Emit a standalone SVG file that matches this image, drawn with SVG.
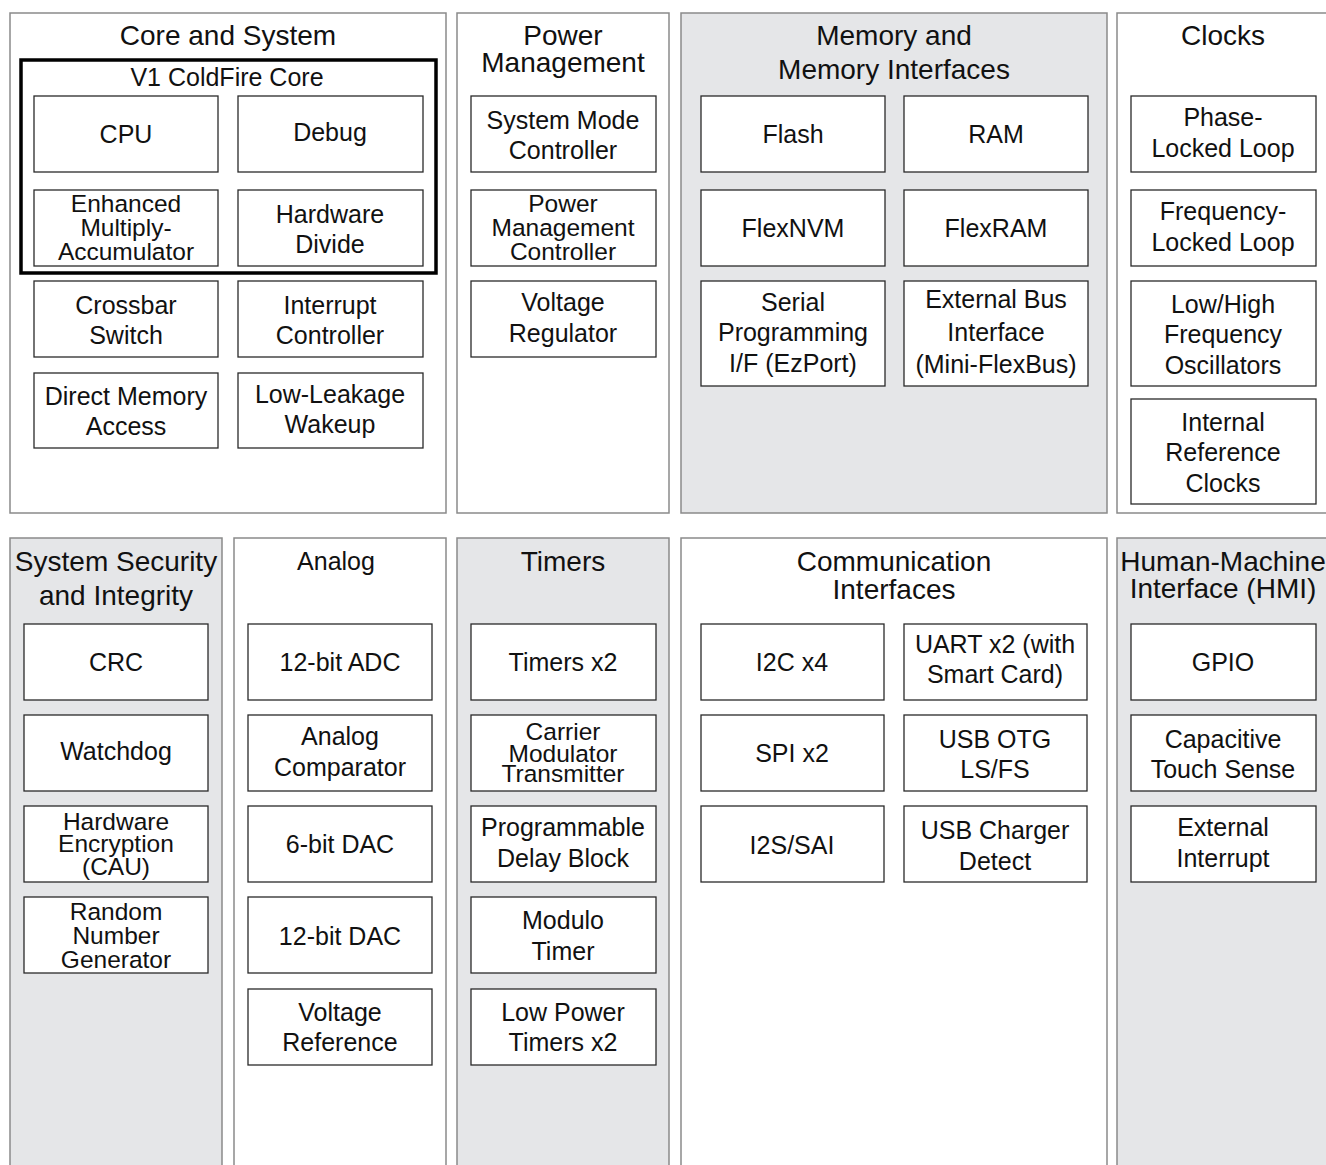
<svg xmlns="http://www.w3.org/2000/svg" width="1326" height="1165" viewBox="0 0 1326 1165">
<style>
.pw{fill:#ffffff;stroke:#8a8a8a;stroke-width:1.5}
.pg{fill:#e5e6e8;stroke:#8a8a8a;stroke-width:1.5}
.b{fill:#ffffff;stroke:#2a2a2a;stroke-width:1.3}
.core{fill:none;stroke:#000;stroke-width:3.5}
text{font-family:"Liberation Sans",Arial,Helvetica,sans-serif;fill:#111;text-anchor:middle}
.t{font-size:28px}
.n{font-size:25px}
.s{font-size:24.5px}
</style>
<rect x="0" y="0" width="1326" height="1165" fill="#ffffff"/>
<!-- Panels -->
<g id="panel-core"><rect class="pw" x="10" y="13" width="436" height="500"/><text class="t" x="228" y="45">Core and System</text></g>
<g id="panel-power"><rect class="pw" x="457" y="13" width="212" height="500"/><text class="t" x="563" y="45">Power</text><text class="t" x="563" y="72">Management</text></g>
<g id="panel-memory"><rect class="pg" x="681" y="13" width="426" height="500"/><text class="t" x="894" y="45">Memory and</text><text class="t" x="894" y="79">Memory Interfaces</text></g>
<g id="panel-clocks"><rect class="pw" x="1117" y="13" width="215" height="500"/><text class="t" x="1223" y="45">Clocks</text></g>
<g id="panel-security"><rect class="pg" x="10" y="538" width="212" height="640"/><text class="t" x="116" y="571">System Security</text><text class="t" x="116" y="605">and Integrity</text></g>
<g id="panel-analog"><rect class="pw" x="234" y="538" width="212" height="640"/><text class="n" x="336" y="570">Analog</text></g>
<g id="panel-timers"><rect class="pg" x="457" y="538" width="212" height="640"/><text class="t" x="563" y="571">Timers</text></g>
<g id="panel-comm"><rect class="pw" x="681" y="538" width="426" height="640"/><text class="t" x="894" y="571">Communication</text><text class="t" x="894" y="599">Interfaces</text></g>
<g id="panel-hmi"><rect class="pg" x="1117" y="538" width="215" height="640"/><text class="t" x="1223" y="571">Human-Machine</text><text class="t" x="1223" y="598">Interface (HMI)</text></g>

<!-- Core -->
<g id="v1-coldfire-core"><rect class="core" x="21" y="60" width="415" height="213"/><text class="n" x="227" y="86">V1 ColdFire Core</text></g>
<g id="cpu"><rect class="b" x="34" y="96" width="184" height="76"/><text class="n" x="126" y="143">CPU</text></g>
<g id="debug"><rect class="b" x="238" y="96" width="185" height="76"/><text class="n" x="330" y="141">Debug</text></g>
<g id="emac"><rect class="b" x="34" y="190" width="184" height="76"/><text class="s" x="126" y="212">Enhanced</text><text class="s" x="126" y="236">Multiply-</text><text class="s" x="126" y="260">Accumulator</text></g>
<g id="hw-divide"><rect class="b" x="238" y="190" width="185" height="76"/><text class="n" x="330" y="223">Hardware</text><text class="n" x="330" y="253">Divide</text></g>
<g id="crossbar"><rect class="b" x="34" y="281" width="184" height="76"/><text class="n" x="126" y="314">Crossbar</text><text class="n" x="126" y="344">Switch</text></g>
<g id="interrupt"><rect class="b" x="238" y="281" width="185" height="76"/><text class="n" x="330" y="314">Interrupt</text><text class="n" x="330" y="344">Controller</text></g>
<g id="dma"><rect class="b" x="34" y="373" width="184" height="75"/><text class="n" x="126" y="405">Direct Memory</text><text class="n" x="126" y="435">Access</text></g>
<g id="llwu"><rect class="b" x="238" y="373" width="185" height="75"/><text class="n" x="330" y="403">Low-Leakage</text><text class="n" x="330" y="433">Wakeup</text></g>

<!-- Power -->
<g id="smc"><rect class="b" x="471" y="96" width="185" height="76"/><text class="n" x="563" y="129">System Mode</text><text class="n" x="563" y="159">Controller</text></g>
<g id="pmc"><rect class="b" x="471" y="190" width="185" height="76"/><text class="s" x="563" y="212">Power</text><text class="s" x="563" y="236">Management</text><text class="s" x="563" y="260">Controller</text></g>
<g id="vreg"><rect class="b" x="471" y="281" width="185" height="76"/><text class="n" x="563" y="311">Voltage</text><text class="n" x="563" y="342">Regulator</text></g>

<!-- Memory -->
<g id="flash"><rect class="b" x="701" y="96" width="184" height="76"/><text class="n" x="793" y="143">Flash</text></g>
<g id="ram"><rect class="b" x="904" y="96" width="184" height="76"/><text class="n" x="996" y="143">RAM</text></g>
<g id="flexnvm"><rect class="b" x="701" y="190" width="184" height="76"/><text class="n" x="793" y="237">FlexNVM</text></g>
<g id="flexram"><rect class="b" x="904" y="190" width="184" height="76"/><text class="n" x="996" y="237">FlexRAM</text></g>
<g id="ezport"><rect class="b" x="701" y="281" width="184" height="105"/><text class="n" x="793" y="311">Serial</text><text class="n" x="793" y="341">Programming</text><text class="n" x="793" y="372">I/F (EzPort)</text></g>
<g id="ebi"><rect class="b" x="904" y="281" width="184" height="105"/><text class="n" x="996" y="308">External Bus</text><text class="n" x="996" y="341">Interface</text><text class="n" x="996" y="373">(Mini-FlexBus)</text></g>

<!-- Clocks -->
<g id="pll"><rect class="b" x="1131" y="96" width="185" height="76"/><text class="n" x="1223" y="126">Phase-</text><text class="n" x="1223" y="157">Locked Loop</text></g>
<g id="fll"><rect class="b" x="1131" y="190" width="185" height="76"/><text class="n" x="1223" y="220">Frequency-</text><text class="n" x="1223" y="251">Locked Loop</text></g>
<g id="osc"><rect class="b" x="1131" y="281" width="185" height="105"/><text class="n" x="1223" y="313">Low/High</text><text class="n" x="1223" y="343">Frequency</text><text class="n" x="1223" y="374">Oscillators</text></g>
<g id="irc"><rect class="b" x="1131" y="399" width="185" height="105"/><text class="n" x="1223" y="431">Internal</text><text class="n" x="1223" y="461">Reference</text><text class="n" x="1223" y="492">Clocks</text></g>

<!-- Security -->
<g id="crc"><rect class="b" x="24" y="624" width="184" height="76"/><text class="n" x="116" y="671">CRC</text></g>
<g id="watchdog"><rect class="b" x="24" y="715" width="184" height="76"/><text class="n" x="116" y="760">Watchdog</text></g>
<g id="cau"><rect class="b" x="24" y="806" width="184" height="76"/><text class="s" x="116" y="830">Hardware</text><text class="s" x="116" y="852">Encryption</text><text class="s" x="116" y="875">(CAU)</text></g>
<g id="rng"><rect class="b" x="24" y="897" width="184" height="76"/><text class="s" x="116" y="920">Random</text><text class="s" x="116" y="944">Number</text><text class="s" x="116" y="968">Generator</text></g>

<!-- Analog -->
<g id="adc"><rect class="b" x="248" y="624" width="184" height="76"/><text class="n" x="340" y="671">12-bit ADC</text></g>
<g id="cmp"><rect class="b" x="248" y="715" width="184" height="76"/><text class="n" x="340" y="745">Analog</text><text class="n" x="340" y="776">Comparator</text></g>
<g id="dac6"><rect class="b" x="248" y="806" width="184" height="76"/><text class="n" x="340" y="853">6-bit DAC</text></g>
<g id="dac12"><rect class="b" x="248" y="897" width="184" height="76"/><text class="n" x="340" y="945">12-bit DAC</text></g>
<g id="vref"><rect class="b" x="248" y="989" width="184" height="76"/><text class="n" x="340" y="1021">Voltage</text><text class="n" x="340" y="1051">Reference</text></g>

<!-- Timers -->
<g id="timers"><rect class="b" x="471" y="624" width="185" height="76"/><text class="n" x="563" y="671">Timers x2</text></g>
<g id="cmt"><rect class="b" x="471" y="715" width="185" height="76"/><text class="s" x="563" y="740">Carrier</text><text class="s" x="563" y="762">Modulator</text><text class="s" x="563" y="782">Transmitter</text></g>
<g id="pdb"><rect class="b" x="471" y="806" width="185" height="76"/><text class="n" x="563" y="836">Programmable</text><text class="n" x="563" y="867">Delay Block</text></g>
<g id="modulo"><rect class="b" x="471" y="897" width="185" height="76"/><text class="n" x="563" y="929">Modulo</text><text class="n" x="563" y="960">Timer</text></g>
<g id="lptmr"><rect class="b" x="471" y="989" width="185" height="76"/><text class="n" x="563" y="1021">Low Power</text><text class="n" x="563" y="1051">Timers x2</text></g>

<!-- Communication -->
<g id="i2c"><rect class="b" x="701" y="624" width="183" height="76"/><text class="n" x="792" y="671">I2C x4</text></g>
<g id="uart"><rect class="b" x="904" y="624" width="183" height="76"/><text class="n" x="995" y="653">UART x2 (with</text><text class="n" x="995" y="683">Smart Card)</text></g>
<g id="spi"><rect class="b" x="701" y="715" width="183" height="76"/><text class="n" x="792" y="762">SPI x2</text></g>
<g id="usb-otg"><rect class="b" x="904" y="715" width="183" height="76"/><text class="n" x="995" y="748">USB OTG</text><text class="n" x="995" y="778">LS/FS</text></g>
<g id="i2s"><rect class="b" x="701" y="806" width="183" height="76"/><text class="n" x="792" y="854">I2S/SAI</text></g>
<g id="usb-dcd"><rect class="b" x="904" y="806" width="183" height="76"/><text class="n" x="995" y="839">USB Charger</text><text class="n" x="995" y="870">Detect</text></g>

<!-- HMI -->
<g id="gpio"><rect class="b" x="1131" y="624" width="185" height="76"/><text class="n" x="1223" y="671">GPIO</text></g>
<g id="tsi"><rect class="b" x="1131" y="715" width="185" height="76"/><text class="n" x="1223" y="748">Capacitive</text><text class="n" x="1223" y="778">Touch Sense</text></g>
<g id="extint"><rect class="b" x="1131" y="806" width="185" height="76"/><text class="n" x="1223" y="836">External</text><text class="n" x="1223" y="867">Interrupt</text></g>

<g id="connectors"></g>
</svg>
